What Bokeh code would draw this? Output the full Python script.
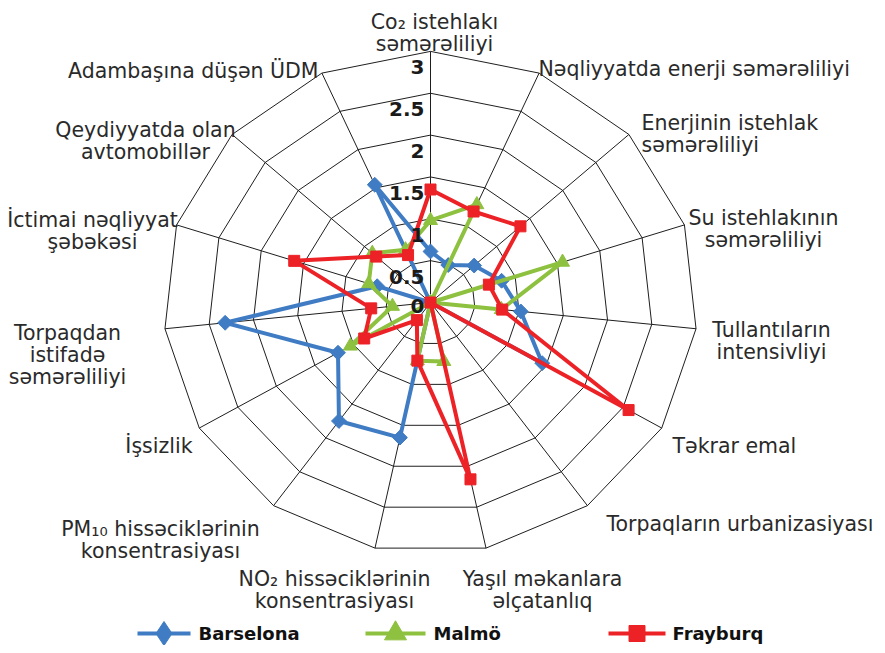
import numpy as np
from bokeh.plotting import figure
from bokeh.models import Range1d
from bokeh.embed import file_html
from bokeh.resources import INLINE
from bokeh.core.properties import value

# ---------------- data ----------------
categories = [
    ["Co₂ istehlakı", "səmərəliliyi"],
    ["Nəqliyyatda enerji səmərəliliyi"],
    ["Enerjinin istehlak", "səmərəliliyi"],
    ["Su istehlakının", "səmərəliliyi"],
    ["Tullantıların", "intensivliyi"],
    ["Təkrar emal"],
    ["Torpaqların urbanizasiyası"],
    ["Yaşıl məkanlara", "əlçatanlıq"],
    ["NO₂ hissəciklərinin", "konsentrasiyası"],
    ["PM₁₀ hissəciklərinin", "konsentrasiyası"],
    ["İşsizlik"],
    ["Torpaqdan", "istifadə", "səmərəliliyi"],
    ["İctimai nəqliyyat", "şəbəkəsi"],
    ["Qeydiyyatda olan", "avtomobillər"],
    ["Adambaşına düşən ÜDM"],
]
barselona = [0.61, 0.49, 0.66, 0.84, 1.02, 1.45, 0, 0, 1.65, 1.75, 1.20, 2.32, 0.63, 0, 1.54]
malmo     = [0.98, 1.28, 0, 1.56, 0.80, 0, 0, 0.72, 0.71, 0, 1.04, 0.43, 0.73, 0.88, 0.69]
frayburq  = [1.35, 1.19, 1.36, 0.69, 0.81, 2.57, 0, 2.16, 0.71, 0.26, 0.86, 0.67, 1.61, 0.82, 0.62]
series_names = ["Barselona", "Malmö", "Frayburq"]
tick_values = [0, 0.5, 1, 1.5, 2, 2.5, 3]
tick_labels = ["0", "0.5", "1", "1.5", "2", "2.5", "3"]

# ---------------- layout ----------------
W, H = 877, 645
CX, CY = 430, 302          # centre in pixels
SX, SY = 89.0, 83.7        # pixels per unit (x, y)
N = len(categories)
theta = np.arange(N) * 2 * np.pi / N
vmax = tick_values[-1]

def pg(X, Y):
    """pixel -> data coordinates"""
    return (X - CX) / SX, (CY - Y) / SY

p = figure(width=W, height=H, output_backend="svg", toolbar_location=None,
           x_range=Range1d(-CX / SX, (W - CX) / SX),
           y_range=Range1d((CY - H) / SY, CY / SY),
           x_axis_location=None, y_axis_location=None, min_border=0,
           background_fill_color="white", border_fill_color="white")
p.grid.visible = False
p.outline_line_color = None

GRID = "#1e1e1e"
# rings
for v in tick_values[1:]:
    xs = list(v * np.sin(theta)) + [v * np.sin(theta[0])]
    ys = list(v * np.cos(theta)) + [v * np.cos(theta[0])]
    p.line(xs, ys, line_color=GRID, line_width=1)
# spokes
p.segment(x0=[0] * N, y0=[0] * N, x1=list(vmax * np.sin(theta)), y1=list(vmax * np.cos(theta)),
          line_color=GRID, line_width=1)

# category labels: (anchor x, align, first baseline)
label_pos = [
    (434, "center", 21), (538, "left", 68), (641, "left", 122), (763, "center", 217),
    (771, "center", 329), (672, "left", 445), (606, "left", 523), (542, "center", 578),
    (334, "center", 578), (160, "center", 528), (192, "right", 445), (67, "center", 332),
    (92, "center", 219), (145, "center", 129), (318, "right", 70),
]
LS = 22
for lines, (X, al, Y0) in zip(categories, label_pos):
    for k, t in enumerate(lines):
        x, y = pg(X, Y0 + k * LS)
        p.text(x=[x], y=[y], text=[t], text_font=value("DejaVu Sans"),
               text_font_size=value("20.5px"), text_align=al, text_baseline="alphabetic",
               text_color="#2a2a2a")

# series
colors = ["#3f7cc3", "#8dc13f", "#ec2227"]
markers = [("square", 10.5, np.pi / 4), ("triangle", 14, 0), ("square", 11, 0)]
for vals, col, (mk, ms, ang) in zip([barselona, malmo, frayburq], colors, markers):
    vals = np.array(vals)
    xs = vals * np.sin(theta)
    ys = vals * np.cos(theta)
    p.line(list(xs) + [xs[0]], list(ys) + [ys[0]], line_color=col, line_width=4, line_join="round")
    p.scatter(list(xs), list(ys), marker=mk, size=ms, angle=ang, fill_color=col, line_color=col)

# tick labels (drawn on top)
for v, lab in zip(tick_values, tick_labels):
    off = 16 if v > 0 else 3
    x, y = pg(CX - 6, CY - v * SY + off)
    p.text(x=[x], y=[y], text=[lab], text_font=value("DejaVu Sans"), text_font_style="bold",
           text_font_size=value("20px"), text_align="right", text_baseline="middle",
           text_color="#1a1a1a")

# legend
leg = [(137, 190, 198), (365, 425, 433), (608, 665, 672)]
leg_mk = [("diamond", 24, 0), ("triangle", 22, 0), ("square", 16, 0)]
LY = 633
for name, col, (a, b, tx), (mk, ms, ang) in zip(series_names, colors, leg, leg_mk):
    x0, y0 = pg(a, LY)
    x1, _ = pg(b, LY)
    p.line([x0, x1], [y0, y0], line_color=col, line_width=4)
    xm, _ = pg((a + b) / 2, LY)
    p.scatter([xm], [y0], marker=mk, size=ms, angle=ang, fill_color=col, line_color=col)
    xt, yt = pg(tx, LY)
    p.text(x=[xt], y=[yt], text=[name], text_font=value("DejaVu Sans"), text_font_style="bold",
           text_font_size=value("18px"), text_align="left", text_baseline="middle",
           text_color="#111111")

open("out.html", "w").write(file_html(p, INLINE))
